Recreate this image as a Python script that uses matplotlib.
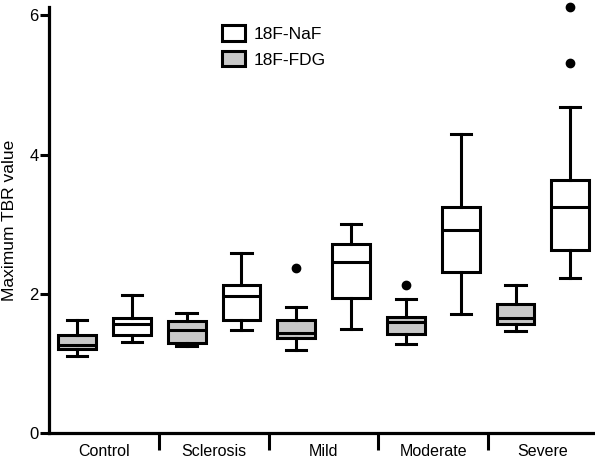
import matplotlib.pyplot as plt
from matplotlib.patches import Patch

plt.rcParams['font.family'] = ['Liberation Sans', 'DejaVu Sans']

groups = ["Control", "Sclerosis", "Mild", "Moderate", "Severe"]

# 18F-FDG box statistics per group
fdg_lo = [1.11, 1.25, 1.19, 1.28, 1.47]
fdg_q1 = [1.21, 1.30, 1.37, 1.42, 1.56]
fdg_med = [1.26, 1.48, 1.44, 1.60, 1.65]
fdg_q3 = [1.41, 1.61, 1.63, 1.66, 1.85]
fdg_hi = [1.63, 1.73, 1.81, 1.92, 2.12]
fdg_out = [[], [], [2.37], [2.12], []]

# 18F-NaF box statistics per group
naf_lo = [1.31, 1.48, 1.49, 1.71, 2.23]
naf_q1 = [1.41, 1.63, 1.94, 2.32, 2.63]
naf_med = [1.57, 1.97, 2.46, 2.91, 3.25]
naf_q3 = [1.65, 2.13, 2.72, 3.24, 3.64]
naf_hi = [1.98, 2.59, 3.00, 4.30, 4.68]
naf_out = [[], [], [], [], [5.31, 6.12]]


def stats(lo, q1, med, q3, hi, out):
    return [dict(whislo=a, q1=b, med=c, q3=d, whishi=e, fliers=f)
            for a, b, c, d, e, f in zip(lo, q1, med, q3, hi, out)]


fdg = stats(fdg_lo, fdg_q1, fdg_med, fdg_q3, fdg_hi, fdg_out)
naf = stats(naf_lo, naf_q1, naf_med, naf_q3, naf_hi, naf_out)

fig = plt.figure(figsize=(5.95, 4.63), dpi=100)
ax = fig.add_axes([0.0824, 0.0648, 0.9176, 0.920])

lw = 2.2
common = dict(widths=0.69, capwidths=0.37, patch_artist=True,
              medianprops=dict(color="black", linewidth=lw),
              whiskerprops=dict(color="black", linewidth=lw),
              capprops=dict(color="black", linewidth=lw),
              flierprops=dict(marker="o", markerfacecolor="black",
                              markeredgecolor="black", markersize=6))

n = len(groups)
b1 = ax.bxp(fdg, positions=[2 * i + 1 for i in range(n)],
            boxprops=dict(facecolor="#c8c8c8", edgecolor="black", linewidth=lw),
            **common)
b2 = ax.bxp(naf, positions=[2 * i + 2 for i in range(n)],
            boxprops=dict(facecolor="white", edgecolor="black", linewidth=lw),
            **common)
for fl in b1["fliers"] + b2["fliers"]:
    fl.set_clip_on(False)

ax.set_xlim(0.49, 10.45)
ax.set_ylim(0, 6.12)

for s in ["top", "right"]:
    ax.spines[s].set_visible(False)
for s in ["left", "bottom"]:
    ax.spines[s].set_linewidth(2.3)

ax.set_yticks([0, 2, 4, 6])
ax.tick_params(axis="y", length=6.5, width=2.2, pad=1, labelsize=12)

ax.set_xticks([2 * i + 1.5 for i in range(n)])
ax.set_xticklabels(groups)
ax.set_xticks([2 * i + 2.5 for i in range(n - 1)], minor=True)
ax.tick_params(axis="x", which="major", length=0, pad=8, labelsize=11.5)
ax.tick_params(axis="x", which="minor", length=12, width=2.2)

ax.set_ylabel("Maximum TBR value", fontsize=12.5)
ax.yaxis.set_label_coords(-0.058, 0.5)

handles = [Patch(facecolor="white", edgecolor="black", linewidth=2.2),
           Patch(facecolor="#c8c8c8", edgecolor="black", linewidth=2.2)]
ax.legend(handles, ["18F-NaF", "18F-FDG"], loc="upper left",
          bbox_to_anchor=(0.373, 0.945), bbox_transform=fig.transFigure,
          frameon=False, fontsize=12.5, handlelength=1.3, handleheight=1.0,
          handletextpad=0.5, labelspacing=0.5, borderpad=0, borderaxespad=0)

fig.savefig("out.png", dpi=100)
